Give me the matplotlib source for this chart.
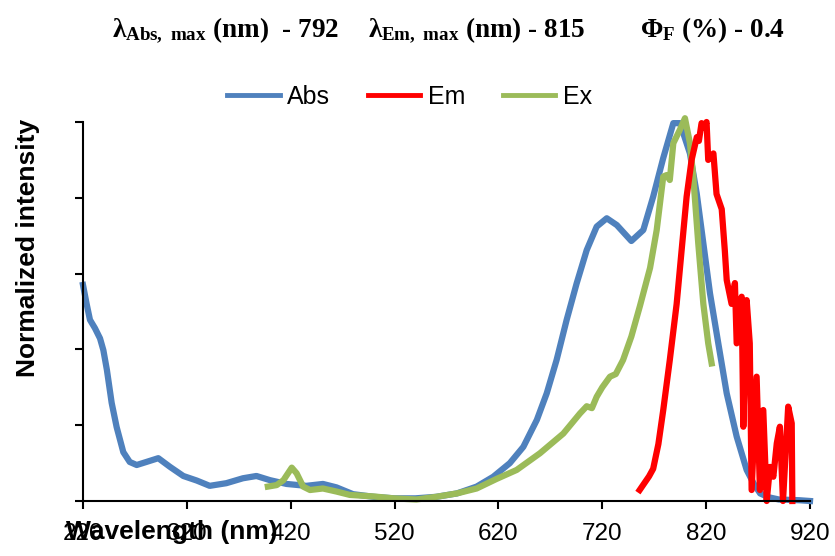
import matplotlib
matplotlib.use("Agg")
import matplotlib.pyplot as plt

# absorption (blue)
abs_wl = [220, 223.5, 226.7, 231.5, 236.4, 239.6, 243, 247.6, 252.4, 258.8, 265, 271.7,
          281, 292.5, 303.8, 316.6, 329.5, 342, 358, 374, 387, 400, 416, 435, 451, 464,
          480, 500, 520, 540, 560, 580, 599, 615, 631, 644, 657, 666.5, 676, 685.7,
          695.3, 705, 714.6, 724.3, 734, 748, 759.5, 769, 778.7, 788.4, 794.8, 804.4,
          810.9, 817.3, 823.7, 831.7, 839.8, 849.4, 859, 866, 872, 880, 890, 900, 910, 920]
abs_y = [0.57, 0.52, 0.478, 0.456, 0.429, 0.398, 0.346, 0.259, 0.195, 0.129, 0.103, 0.095,
         0.103, 0.113, 0.09, 0.066, 0.054, 0.040, 0.047, 0.06, 0.066, 0.055, 0.045, 0.04,
         0.045, 0.036, 0.018, 0.011, 0.007, 0.007, 0.011, 0.02, 0.038, 0.064, 0.1, 0.143,
         0.214, 0.284, 0.372, 0.478, 0.574, 0.662, 0.724, 0.746, 0.728, 0.686, 0.715,
         0.803, 0.905, 0.997, 0.997, 0.917, 0.812, 0.68, 0.548, 0.416, 0.284, 0.17, 0.082,
         0.045, 0.02, 0.01, 0.004, 0.003, 0.002, 0.0]

# emission (red)
em_wl = [756, 760, 765, 769, 774, 778.7, 785, 791.6, 796.4, 801.2, 806, 811, 813, 815.6,
         818, 820.4, 822, 827, 830, 835, 838, 839.8, 844.5, 847.7, 849.4, 854.2, 855.8,
         859, 862, 863.8, 868.6, 871.8, 875, 878.3, 881.5, 884.7, 888, 891, 894, 899,
         902.4, 903]
em_y = [0.029, 0.045, 0.065, 0.085, 0.15, 0.24, 0.372, 0.52, 0.662, 0.803, 0.9, 0.96,
        0.95, 0.997, 0.985, 1.0, 0.9, 0.917, 0.81, 0.77, 0.66, 0.583, 0.52, 0.575, 0.416,
        0.539, 0.196, 0.53, 0.416, 0.029, 0.328, 0.029, 0.24, 0.0, 0.09, 0.064, 0.152,
        0.196, 0.0, 0.249, 0.205, 0.0]

# excitation (green)
ex_wl = [398, 406.5, 413, 421, 425.7, 432, 438.6, 451, 464, 477, 500, 519, 541, 560, 580,
         599, 618, 637.6, 660, 682.5, 698.5, 705, 710, 714.6, 720, 727.4, 733, 740, 748,
         756.3, 766, 772.4, 778.7, 782, 785, 788.4, 794.8, 799.6, 804.4, 807.6, 812.4,
         817.3, 822, 825.3]
ex_y = [0.038, 0.042, 0.055, 0.088, 0.073, 0.038, 0.029, 0.033, 0.025, 0.016, 0.012,
        0.007, 0.004, 0.011, 0.02, 0.033, 0.058, 0.082, 0.126, 0.178, 0.231, 0.25, 0.245,
        0.275, 0.30, 0.328, 0.335, 0.372, 0.434, 0.515, 0.615, 0.715, 0.856, 0.86, 0.847,
        0.944, 0.98, 1.01, 0.944, 0.856, 0.68, 0.52, 0.416, 0.363]

x_ticks = [220, 320, 420, 520, 620, 720, 820, 920]
y_ticks = [0, 0.2, 0.4, 0.6, 0.8, 1.0]

plt.rcParams['font.family'] = ['Liberation Sans', 'DejaVu Sans']
plt.rcParams['mathtext.fontset'] = 'custom'
plt.rcParams['mathtext.rm'] = 'Liberation Serif:bold'
plt.rcParams['mathtext.it'] = 'Liberation Serif:bold'
plt.rcParams['mathtext.bf'] = 'Liberation Serif:bold'

fig = plt.figure(figsize=(8.35, 5.56), dpi=100)
ax = fig.add_axes([83 / 835, 1 - 501 / 556, 727 / 835, 379 / 556])

lw = 4.5
l_abs, = ax.plot(abs_wl, abs_y, color='#4F81BD', lw=lw, clip_on=False, label='Abs')
l_ex, = ax.plot(ex_wl, ex_y, color='#9BBB59', lw=lw, clip_on=False, label='Ex')
l_em, = ax.plot(em_wl, em_y, color='#FF0000', lw=lw, clip_on=False, label='Em')

ax.set_xlim(220, 920)
ax.set_ylim(0, 1)
ax.set_xticks(x_ticks)
ax.set_yticks(y_ticks)
ax.set_yticklabels([])
ax.tick_params(axis='both', direction='out', length=6, width=1.5, labelsize=17.5)
ax.tick_params(axis='x', pad=10)
for s in ['top', 'right']:
    ax.spines[s].set_visible(False)
for s in ['left', 'bottom']:
    ax.spines[s].set_linewidth(1.5)

ax.set_xlabel('Wavelength (nm)', fontsize=19, fontweight='bold')
ax.xaxis.set_label_coords(0.1224, -0.050)
ax.set_ylabel('Normalized intensity', fontsize=19, fontweight='bold')
ax.yaxis.set_label_coords(-0.059, 0.6675)

leg = ax.legend([l_abs, l_em, l_ex], ['Abs', 'Em', 'Ex'], loc='center',
                bbox_to_anchor=(0.449, 1.066), ncol=3, frameon=False, fontsize=18,
                handlelength=2.1, handletextpad=0.3, columnspacing=1.5, borderpad=0)
for h in leg.get_lines():
    h.set_linewidth(3.5)

tkw = dict(fontsize=19.5, fontfamily='Liberation Serif', fontweight='bold', va='center', ha='left')
fig.text(112 / 835, 1 - 30 / 556, r'$\lambda_{\mathrm{Abs,\ max}}$ (nm)  - 792', **tkw)
fig.text(368 / 835, 1 - 30 / 556, r'$\lambda_{\mathrm{Em,\ max}}$ (nm) - 815', **tkw)
fig.text(640 / 835, 1 - 30 / 556, r'$\Phi_{\mathrm{F}}$ (%) - 0.4', **tkw)

fig.savefig('out.png', dpi=100)
